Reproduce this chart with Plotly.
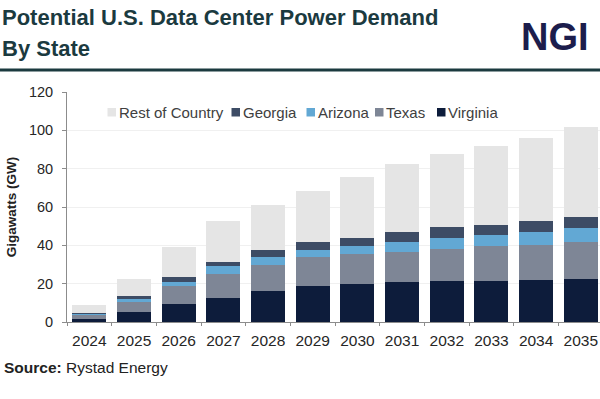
import plotly.graph_objects as go

years = ["2024", "2025", "2026", "2027", "2028", "2029", "2030", "2031", "2032", "2033", "2034", "2035"]
virginia = [1.5, 5.4, 9.2, 12.7, 16.1, 19.0, 20.0, 20.8, 21.2, 21.4, 21.7, 22.2]
texas = [2.6, 4.8, 9.4, 12.5, 13.8, 14.9, 15.5, 15.7, 17.1, 18.1, 18.7, 19.7]
arizona = [0.3, 2.0, 2.4, 3.8, 3.8, 3.5, 4.3, 5.4, 5.5, 6.1, 6.8, 7.0]
georgia = [0.4, 1.3, 2.3, 2.5, 3.8, 4.2, 4.2, 5.3, 5.6, 5.2, 5.5, 5.7]
rest_of_country = [4.0, 8.7, 15.8, 21.0, 23.7, 26.6, 31.4, 35.1, 38.0, 40.9, 43.5, 47.2]

series_names = ["Virginia", "Texas", "Arizona", "Georgia", "Rest of Country"]
series_values = [virginia, texas, arizona, georgia, rest_of_country]
colors = {
    "Virginia": "#0d1c3b",
    "Texas": "#7e8696",
    "Arizona": "#62a8d4",
    "Georgia": "#3d4c65",
    "Rest of Country": "#e5e5e5",
}
legend_order = ["Rest of Country", "Georgia", "Arizona", "Texas", "Virginia"]
legend_x = [107.5, 231.5, 306.5, 375, 437]  # pixel positions of swatches

W, H = 600, 399
ML, MR, MT, MB = 67, 0, 92, 77
PW = W - ML - MR
PH = H - MT - MB


def px(x):
    return (x - ML) / PW


def py(y):
    return (H - MB - y) / PH


fig = go.Figure()
for name, vals in zip(series_names, series_values):
    fig.add_trace(go.Bar(
        x=years, y=vals, name=name,
        marker=dict(color=colors[name], line=dict(width=0)),
        showlegend=False,
    ))

annotations = []
shapes = []

# custom legend
for name, sx in zip(legend_order, legend_x):
    shapes.append(dict(type="rect", xref="paper", yref="paper",
                       x0=px(sx), x1=px(sx + 8.5), y0=py(116.5), y1=py(108),
                       fillcolor=colors[name], line=dict(width=0), layer="above"))
    annotations.append(dict(text=name, xref="paper", yref="paper",
                            x=px(sx + 10), y=py(112), xanchor="left", yanchor="middle",
                            showarrow=False, borderpad=0,
                            font=dict(family="Liberation Sans, Arial", size=15, color="#404040")))

# title
title_color = "#1b3a3f"
annotations.append(dict(text="<b>Potential U.S. Data Center Power Demand</b>", xref="paper", yref="paper",
                        x=px(1), y=py(17.5), xanchor="left", yanchor="middle", showarrow=False, borderpad=0,
                        font=dict(family="Liberation Sans, Arial", size=22, color=title_color)))
annotations.append(dict(text="<b>By State</b>", xref="paper", yref="paper",
                        x=px(1), y=py(48), xanchor="left", yanchor="middle", showarrow=False, borderpad=0,
                        font=dict(family="Liberation Sans, Arial", size=22, color=title_color)))
annotations.append(dict(text="<b>NGI</b>", xref="paper", yref="paper",
                        x=px(590), y=py(37), xanchor="right", yanchor="middle", showarrow=False, borderpad=0,
                        font=dict(family="Liberation Sans, Arial", size=38, color="#1c1d4c")))
annotations.append(dict(text="<b>Source:</b> Rystad Energy", xref="paper", yref="paper",
                        x=px(3), y=py(367), xanchor="left", yanchor="middle", showarrow=False, borderpad=0,
                        font=dict(family="Liberation Sans, Arial", size=15.5, color="#222222")))

shapes.append(dict(type="line", xref="paper", yref="paper", x0=px(0), x1=px(600),
                   y0=py(70), y1=py(70), line=dict(color="#1b3a3f", width=3)))

fig.update_layout(
    width=W, height=H,
    margin=dict(l=ML, r=MR, t=MT, b=MB),
    paper_bgcolor="white", plot_bgcolor="white",
    barmode="stack", bargap=0.24,
    annotations=annotations, shapes=shapes,
    font=dict(family="Liberation Sans, Arial", color="#333333"),
    xaxis=dict(
        type="category", range=[-0.5, 11.43],
        showline=True, linecolor="#8c8c8c", linewidth=1,
        ticks="outside", tickson="boundaries", ticklen=3, tickcolor="#8c8c8c",
        tickfont=dict(size=15.5, color="#262626"), ticklabelstandoff=4,
        showgrid=False,
    ),
    yaxis=dict(
        range=[0, 120], dtick=20,
        showline=True, linecolor="#8c8c8c", linewidth=1,
        ticks="outside", ticklen=4, tickcolor="#8c8c8c",
        tickfont=dict(size=14.5, color="#262626"), ticklabelstandoff=6,
        showgrid=True, gridcolor="#f0f0f0", gridwidth=1,
        zeroline=False,
        title=dict(text="<b>Gigawatts (GW)</b>", font=dict(size=13.5, color="#222222"), standoff=9),
    ),
)

fig.write_html(
    "out.html",
    config={"displayModeBar": False},
    post_script="document.body.style.margin='0px';document.body.style.overflow='hidden';",
)
